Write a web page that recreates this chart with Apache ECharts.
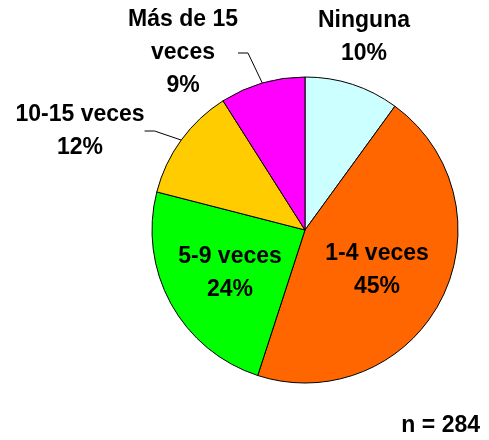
<!DOCTYPE html>
<html>
<head>
<meta charset="utf-8">
<script src="https://cdn.jsdelivr.net/npm/echarts@6/dist/echarts.min.js"></script>
<style>
html,body{margin:0;padding:0;background:#fff;}
#chart{width:489px;height:440px;}
</style>
</head>
<body>
<div id="chart"></div>
<script>
// Data
var categories = ['Ninguna', '1-4 veces', '5-9 veces', '10-15 veces', 'Más de 15 veces'];
var labelNames = ['Ninguna', '1-4 veces', '5-9 veces', '10-15 veces', 'Más de 15\nveces'];
var values = [10, 45, 24, 12, 9];
var sampleNote = 'n = 284';

// Styles / layout (not data)
var colors = ['#CCFFFF', '#FF6600', '#00FF00', '#FFCC00', '#FF00FF'];
var insideIdx = [1, 2];
var noLineIdx = [0];
var labelPos = [[364, 37], [377, 270], [230, 273], [80, 131], [183, 53]];

var chart = echarts.init(document.getElementById('chart'));
var fontFamily = '"Liberation Sans", Arial, sans-serif';

var data = categories.map(function (c, i) {
  var item = {
    name: c,
    value: values[i],
    itemStyle: { color: colors[i] }
  };
  if (insideIdx.indexOf(i) >= 0) {
    item.label = { position: 'inside' };
    item.labelLine = { show: false };
  } else if (noLineIdx.indexOf(i) >= 0) {
    item.labelLine = { show: false };
  }
  return item;
});

chart.setOption({
  animation: false,
  backgroundColor: '#ffffff',
  title: {
    text: sampleNote,
    right: 4,
    bottom: -2,
    textStyle: { fontFamily: fontFamily, fontWeight: 'bold', fontSize: 23, color: '#000' }
  },
  series: [{
    type: 'pie',
    center: [305, 230],
    radius: [0, 153],
    startAngle: 90,
    clockwise: true,
    avoidLabelOverlap: false,
    data: data,
    itemStyle: { borderColor: '#000', borderWidth: 1 },
    label: {
      show: true,
      position: 'outside',
      formatter: function (p) {
        return labelNames[p.dataIndex] + '\n' + Math.round(p.percent) + '%';
      },
      fontFamily: fontFamily,
      fontWeight: 'bold',
      fontSize: 23,
      lineHeight: 33,
      color: '#000',
      align: 'center'
    },
    labelLine: {
      show: true,
      length: 10,
      length2: 10,
      lineStyle: { color: '#000', width: 1 }
    },
    emphasis: { disabled: true },
    labelLayout: function (params) {
      var p = labelPos[params.dataIndex];
      return { x: p[0], y: p[1], align: 'center', verticalAlign: 'middle' };
    }
  }]
});
</script>
</body>
</html>
